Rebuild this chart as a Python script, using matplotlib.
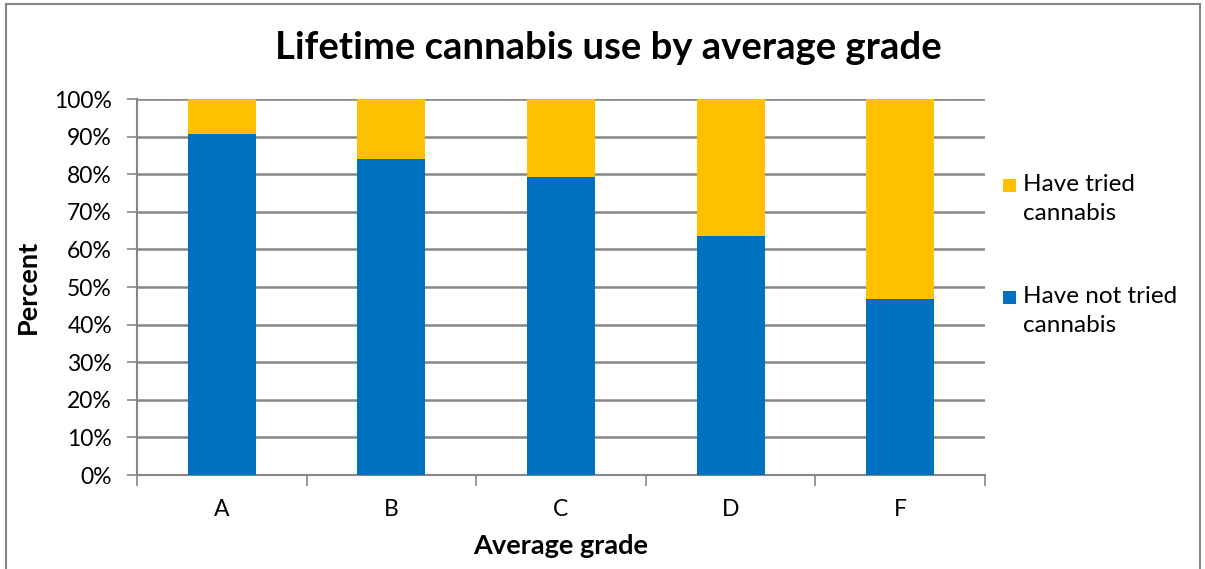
import matplotlib
matplotlib.use("Agg")
import matplotlib.pyplot as plt
from matplotlib.patches import Rectangle
from matplotlib.lines import Line2D
import numpy as np

grades = ["A", "B", "C", "D", "F"]
not_tried = [90.8, 84.0, 79.3, 63.6, 46.7]
tried = [100 - v for v in not_tried]
series_labels = ["Have not tried\ncannabis", "Have tried\ncannabis"]
title = "Lifetime cannabis use by average grade"
xlabel = "Average grade"
ylabel = "Percent"

blue = "#0070C0"
yellow = "#FFC000"
gray = "#868686"

plt.rcParams['font.family'] = ['Lato', 'DejaVu Sans']

W, H = 1205, 569
fig = plt.figure(figsize=(W/100, H/100), dpi=100)
ax = fig.add_axes([137/W, 1 - 475/H, (985-137)/W, (475-99)/H])

x = np.arange(len(grades))
b1 = ax.bar(x, not_tried, width=0.4, color=blue, zorder=3)
b2 = ax.bar(x, tried, width=0.4, bottom=not_tried, color=yellow, zorder=3)

ax.set_xlim(-0.5, len(grades) - 0.5)
ax.set_ylim(0, 100)
ax.set_yticks(np.arange(0, 101, 10))
ax.set_yticklabels([f"{v}%" for v in range(0, 101, 10)], fontsize=16.5)
ax.set_xticks(x)
ax.set_xticklabels(grades, fontsize=16.5)
ax.set_xticks(np.arange(-0.5, len(grades), 1), minor=True)
ax.tick_params(axis='x', which='major', length=0, pad=17)
ax.tick_params(axis='x', which='minor', length=8, width=1.2, color=gray)
ax.tick_params(axis='y', length=7, width=1.2, color=gray, pad=11)

ax.yaxis.grid(True, color=gray, linewidth=1.8, zorder=0)
ax.set_axisbelow(True)
for s in ['top', 'right']:
    ax.spines[s].set_visible(False)
for s in ['left', 'bottom']:
    ax.spines[s].set_color(gray)
    ax.spines[s].set_linewidth(1.5)

ax.set_xlabel(xlabel, fontsize=19.5, fontweight='bold', labelpad=10)
ax.set_ylabel(ylabel, fontsize=19.5, fontweight='bold', labelpad=10)

fig.text(608/W, 1 - 48/H, title, fontsize=27.5, fontweight='bold', ha='center', va='center')

# legend drawn manually (Excel style: swatch aligned with first text line)
legend_items = [(series_labels[1], yellow, 185), (series_labels[0], blue, 297)]
for label, color, yc in legend_items:
    fig.add_artist(Rectangle((1003/W, 1 - (yc + 7)/H), 13/W, 13/H,
                             transform=fig.transFigure, facecolor=color, edgecolor='none'))
    fig.text(1023/W, 1 - (yc - 11)/H, label, fontsize=17.5, ha='left', va='top',
             linespacing=1.5)

# outer border
fig.add_artist(Line2D([6/W, 6/W], [0, 1 - 4/H], transform=fig.transFigure, color=gray, lw=1.5))
fig.add_artist(Line2D([6/W, 1200/W], [1 - 4/H, 1 - 4/H], transform=fig.transFigure, color=gray, lw=1.5))
fig.add_artist(Line2D([1200/W, 1200/W], [0, 1 - 4/H], transform=fig.transFigure, color=gray, lw=1.5))

fig.savefig("out.png", dpi=100)
